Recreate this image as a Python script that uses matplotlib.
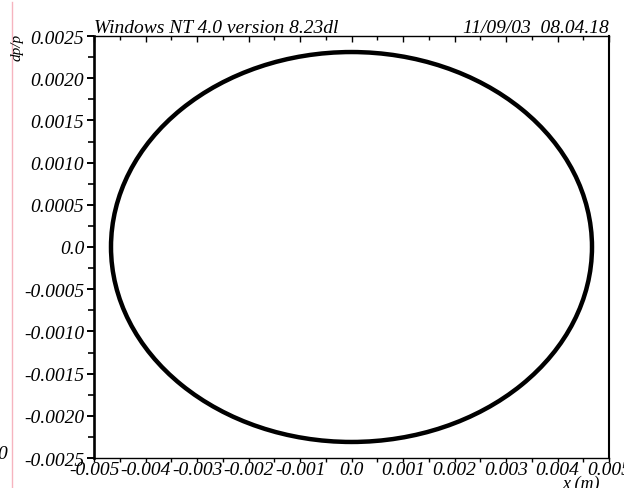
import matplotlib
matplotlib.use('Agg')
import matplotlib.pyplot as plt
from matplotlib.patches import Ellipse
from matplotlib.lines import Line2D
from matplotlib.ticker import MultipleLocator

# data
ellipse_center = (0.0, 0.0)          # (x, dp/p)
ellipse_half_axes = (0.00467, 0.00231)  # half width in x (m), half height in dp/p

x_ticks = [-0.005, -0.004, -0.003, -0.002, -0.001, 0.0, 0.001, 0.002, 0.003, 0.004, 0.005]
x_tick_labels = ['-0.005', '-0.004', '-0.003', '-0.002', '-0.001', '0.0',
                 '0.001', '0.002', '0.003', '0.004', '0.005']
y_ticks = [-0.0025, -0.0020, -0.0015, -0.0010, -0.0005, 0.0,
           0.0005, 0.0010, 0.0015, 0.0020, 0.0025]
y_tick_labels = ['-0.0025', '-0.0020', '-0.0015', '-0.0010', '-0.0005', '0.0',
                 '0.0005', '0.0010', '0.0015', '0.0020', '0.0025']

title_left = 'Windows NT 4.0 version 8.23dl'
title_right = '11/09/03  08.04.18'

plt.rcParams['font.family'] = ['Liberation Serif', 'DejaVu Serif']
plt.rcParams['font.style'] = 'italic'

fig = plt.figure(figsize=(6.24, 4.89), dpi=100)
ax = fig.add_axes([94 / 624, 1 - 459 / 489, 515 / 624, 422 / 489])

ax.add_patch(Ellipse(ellipse_center, 2 * ellipse_half_axes[0], 2 * ellipse_half_axes[1],
                     fill=False, edgecolor='black', linewidth=3.2))

ax.set_xlim(-0.005, 0.005)
ax.set_ylim(-0.0025, 0.0025)

ax.set_xticks(x_ticks)
ax.set_xticklabels(x_tick_labels, fontsize=14)
ax.set_yticks(y_ticks)
ax.set_yticklabels(y_tick_labels, fontsize=14)
ax.xaxis.set_minor_locator(MultipleLocator(0.0005))
ax.yaxis.set_minor_locator(MultipleLocator(0.00025))

ax.tick_params(axis='y', which='major', direction='out', length=5, width=1.4, pad=2,
               left=True, right=False)
ax.tick_params(axis='y', which='minor', direction='out', length=4, width=1.2,
               left=True, right=False)
ax.tick_params(axis='x', which='major', direction='out', length=3, width=1.0, pad=-1,
               bottom=True, top=True)
ax.tick_params(axis='x', which='minor', direction='out', length=3, width=1.0,
               bottom=True, top=True)

# top ticks point inward, bottom ticks outward
for t in ax.xaxis.get_major_ticks():
    t.tick2line.set_marker(3)
    t.tick2line.set_markersize(4)
for t in ax.xaxis.get_minor_ticks():
    t.tick2line.set_marker(3)
    t.tick2line.set_markersize(3)

ax.spines['left'].set_linewidth(1.9)
ax.spines['right'].set_linewidth(1.5)
ax.spines['top'].set_linewidth(1.0)
ax.spines['bottom'].set_linewidth(1.0)

ax.set_title(title_left, loc='left', fontsize=14, pad=2)
ax.set_title(title_right, loc='right', fontsize=14, pad=2)

fig.text(600 / 624, 1 - 476 / 489, 'x (m)', ha='right', va='top', fontsize=13)
fig.text(17 / 624, 1 - 47 / 489, 'dp/p', rotation=90, ha='center', va='center', fontsize=11)
fig.text(7 / 624, 1 - 455 / 489, '0', ha='right', va='center', fontsize=14)

# page edge line on the left
fig.add_artist(Line2D([11.5 / 624, 11.5 / 624], [0, 1 - 3 / 489],
                      transform=fig.transFigure, color='#f6b4bf', linewidth=1.0))

fig.savefig('out.png', dpi=100)
